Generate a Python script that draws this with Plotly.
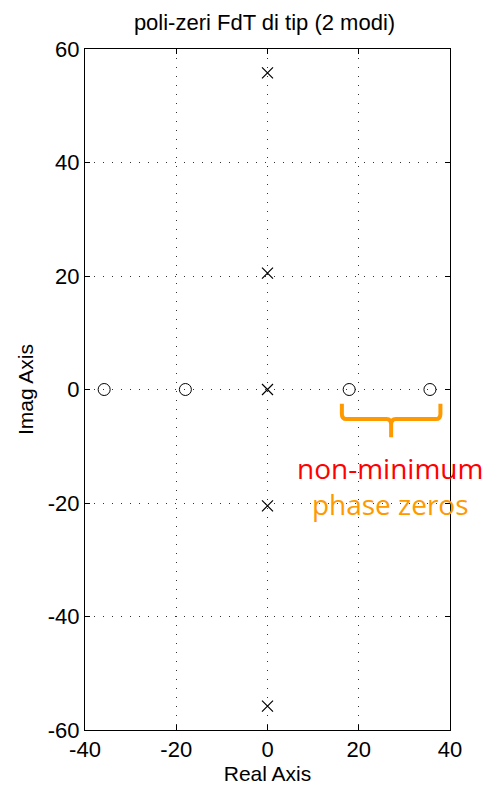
import plotly.graph_objects as go

# data
zeros_re = [-35.8, -18.0, 17.9, 35.6]
zeros_im = [0, 0, 0, 0]
poles_re = [0, 0, 0, 0, 0]
poles_im = [55.8, 20.5, 0, -20.5, -55.8]
x_ticks = [-40, -20, 0, 20, 40]
y_ticks = [-60, -40, -20, 0, 20, 40, 60]

fig = go.Figure()
fig.add_trace(go.Scatter(x=zeros_re, y=zeros_im, mode="markers",
                         marker=dict(symbol="circle-open", size=12, color="black", line=dict(width=1)),
                         showlegend=False, cliponaxis=False))
fig.add_trace(go.Scatter(x=poles_re, y=poles_im, mode="markers",
                         marker=dict(symbol="x-thin-open", size=11, color="black", line=dict(width=1.2)),
                         showlegend=False, cliponaxis=False))

font = dict(family="Liberation Sans, Arial, sans-serif", color="black")

# brace annotation
brace = ("M 16.3,-2.5 L 16.3,-4.3 Q 16.3,-5.2 17.3,-5.2 L 26.1,-5.2 Q 27.1,-5.2 27.1,-6.2 L 27.1,-8.4 "
         "M 27.1,-6.2 Q 27.1,-5.2 28.1,-5.2 L 36.9,-5.2 Q 37.9,-5.2 37.9,-4.3 L 37.9,-2.5")
fig.add_shape(type="path", path=brace, xref="x", yref="y",
              line=dict(color="#ff9900", width=4))
fig.add_annotation(x=26.8, y=-17.0, xref="x", yref="y",
                   text="<span style='color:#ff0000'>non-minimum</span><br>"
                        "<span style='color:#ff9900'>phase zeros</span>",
                   showarrow=False,
                   font=dict(family="Open Sans, sans-serif", size=28, color="#ff9900"))

axis_common = dict(showline=True, linecolor="black", linewidth=1, mirror="ticks",
                   ticks="inside", ticklen=5, tickcolor="black", automargin=False,
                   showgrid=True, gridcolor="#333333", griddash="1px,8px", gridwidth=1,
                   zeroline=False, tickfont=dict(size=22, **font))

fig.update_xaxes(range=[-40, 40], tickvals=x_ticks, ticktext=[str(v) for v in x_ticks],
                 title=dict(text="Real Axis", font=dict(size=21, **font), standoff=1),
                 **axis_common)
fig.update_yaxes(range=[-60, 60], tickvals=y_ticks, ticktext=[str(v) for v in y_ticks],
                 title=dict(text="Imag Axis", font=dict(size=21, **font), standoff=8),
                 **axis_common)

fig.update_layout(width=488, height=785, margin=dict(l=85, r=38, t=49, b=55, autoexpand=False),
                  paper_bgcolor="white", plot_bgcolor="white",
                  title=dict(text="poli-zeri FdT di tip (2 modi)", x=0.542, xanchor="center",
                             y=0.972, yanchor="middle", font=dict(size=22, **font)),
                  font=font)

fig.write_html("out.html")
